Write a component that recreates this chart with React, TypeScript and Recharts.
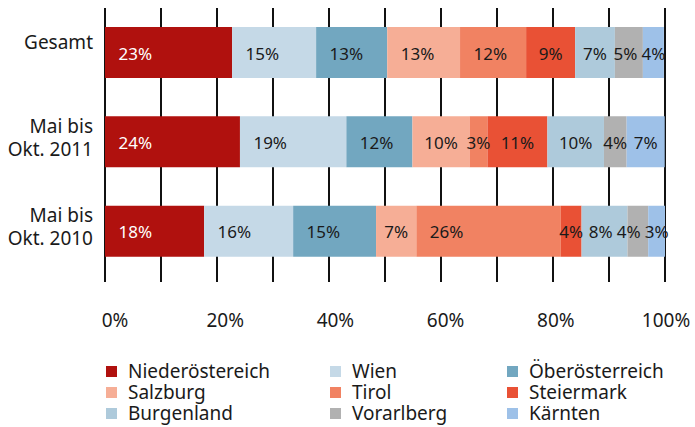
import { Bar, BarChart, CartesianGrid, LabelList, XAxis, YAxis } from 'recharts';

const categories = ['Gesamt', 'Mai bis\nOkt. 2011', 'Mai bis\nOkt. 2010'];

const regions = [
  'Niederöstereich',
  'Wien',
  'Öberösterreich',
  'Salzburg',
  'Tirol',
  'Steiermark',
  'Burgenland',
  'Vorarlberg',
  'Kärnten',
];

// share per region, one entry per category (Gesamt, 2011, 2010)
const niederoesterreich = [22.7, 24.1, 17.7];
const wien = [15, 19, 15.9];
const oberoesterreich = [12.7, 11.8, 14.8];
const salzburg = [13, 10.2, 7.2];
const tirol = [11.8, 3.2, 25.8];
const steiermark = [8.75, 10.7, 3.7];
const burgenland = [7.1, 10.1, 8.2];
const vorarlberg = [5, 4.05, 3.7];
const kaernten = [3.75, 6.8, 3];

const xTicks = [0, 10, 20, 30, 40, 50, 60, 70, 80, 90, 100];

const colors = ['#b0110e', '#c5d9e7', '#72a7c0', '#f6ae96', '#f18262', '#e95135', '#aecadb', '#b1b1b1', '#9ec1e8'];

const series = [niederoesterreich, wien, oberoesterreich, salzburg, tirol, steiermark, burgenland, vorarlberg, kaernten];

const data = categories.map((name, i) => {
  const row: Record<string, string | number> = { name };
  regions.forEach((r, j) => {
    row[r] = series[j][i];
  });
  return row;
});

const FONT = '"Noto Sans", sans-serif';

const labelText = (v: number) => `${Math.round(v)}%`;
const labelW = (v: number) => labelText(v).length * 11.5;

// centres of all labels of one row, pushed left where they would collide
const rowCentres = (row: number, pxPerUnit: number, x0: number) => {
  const vals = series.map((s) => s[row]);
  let start = x0;
  const c = vals.map((v) => {
    const w = v * pxPerUnit;
    const cx = start + Math.min(13 + labelW(v) / 2, w / 2);
    start += w;
    return cx;
  });
  for (let j = c.length - 2; j >= 0; j--) {
    const limit = c[j + 1] - labelW(vals[j + 1]) / 2 - 5 - labelW(vals[j]) / 2;
    if (c[j] > limit) c[j] = limit;
  }
  return c;
};

const barLabel = (seriesIdx: number, color: string) => (props: any) => {
  const { x, y, width, height, value, index } = props;
  const pxPerUnit = width / value;
  let before = 0;
  for (let j = 0; j < seriesIdx; j++) before += series[j][index];
  const cx = rowCentres(index, pxPerUnit, x - before * pxPerUnit)[seriesIdx];
  return (
    <text x={cx} y={y + height / 2 + 7} textAnchor="middle" fill={color} fontSize={17} fontFamily={FONT}>
      {labelText(value)}
    </text>
  );
};

const CategoryTick = (props: any) => {
  const { x, y, payload } = props;
  const lines = String(payload.value).split('\n');
  const base = lines.length === 1 ? [-4] : [-9, 14];
  return (
    <text textAnchor="end" fill="#1a1a1a" fontSize={19} fontFamily={FONT}>
      {lines.map((l, i) => (
        <tspan key={i} x={x - 12} y={y + base[i]}>
          {l}
        </tspan>
      ))}
    </text>
  );
};

const PercentTick = (props: any) => {
  const { x, y, payload } = props;
  if (payload.value % 20 !== 0) return null;
  return (
    <text x={x + 10 - 0.09 * payload.value} y={y + 45} textAnchor="middle" fill="#1a1a1a" fontSize={19} fontFamily={FONT}>
      {`${payload.value}%`}
    </text>
  );
};

const LegendBox = () => (
  <div
    style={{
      position: 'absolute',
      left: 106,
      top: 361,
      display: 'grid',
      gridTemplateColumns: '224px 177px 170px',
      fontFamily: FONT,
      fontSize: 19,
      color: '#1a1a1a',
      lineHeight: '21px',
    }}
  >
    {regions.map((r, i) => (
      <div key={r} style={{ display: 'flex', alignItems: 'center', height: 21 }}>
        <span style={{ width: 11, height: 11, background: colors[i], display: 'inline-block', marginRight: 11 }} />
        {r}
      </div>
    ))}
  </div>
);

export default function App() {
  return (
    <div style={{ position: 'absolute', left: 0, top: 0, width: 695, height: 427, background: '#fff' }}>
      <BarChart
        width={695}
        height={427}
        data={data}
        layout="vertical"
        margin={{ top: 8, right: 30, bottom: 105, left: 0 }}
      >
        <CartesianGrid horizontal={false} stroke="#111" strokeWidth={2} />
        <XAxis
          type="number"
          domain={[0, 100]}
          ticks={xTicks}
          interval={0}
          axisLine={false}
          tickLine={false}
          tickSize={0}
          tickMargin={0}
          height={40}
          tick={<PercentTick />}
        />
        <YAxis
          type="category"
          dataKey="name"
          width={105}
          axisLine={false}
          tickLine={false}
          tickSize={0}
          tickMargin={0}
          padding={{ top: 0, bottom: 6 }}
          tick={<CategoryTick />}
        />
        {regions.map((r, i) => (
          <Bar key={r} dataKey={r} stackId="a" fill={colors[i]} barSize={51} isAnimationActive={false}>
            <LabelList dataKey={r} content={barLabel(i, i === 0 ? '#ffffff' : '#1a1a1a')} />
          </Bar>
        ))}
      </BarChart>
      <LegendBox />
    </div>
  );
}
